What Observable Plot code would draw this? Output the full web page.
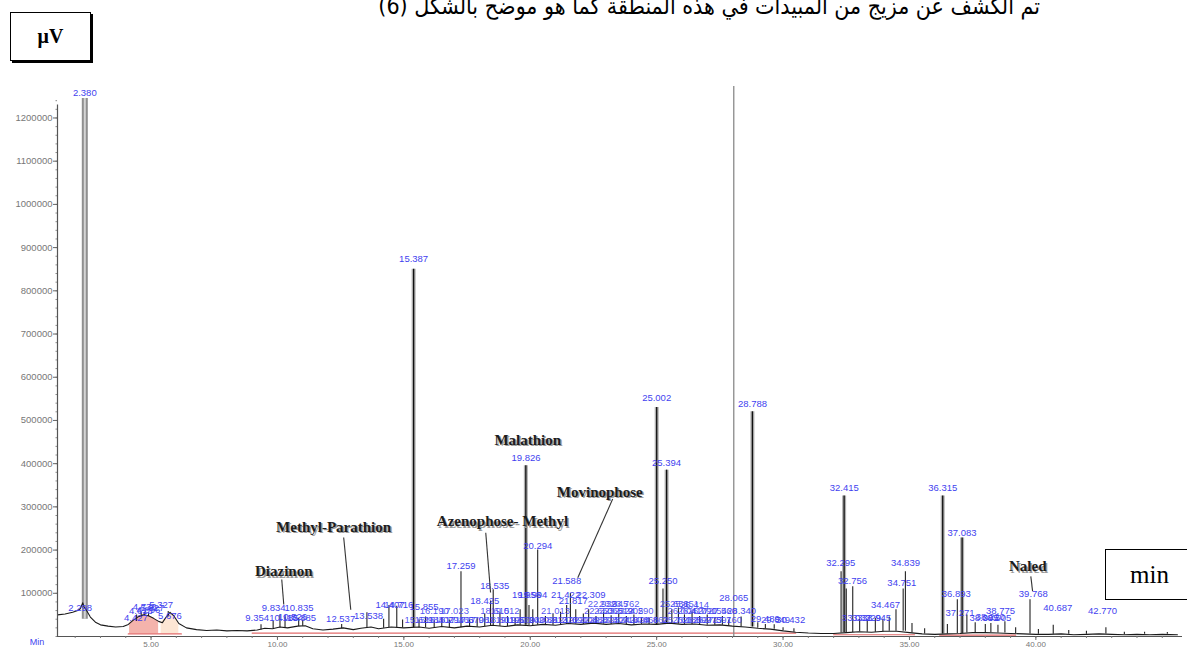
<!DOCTYPE html>
<html><head><meta charset="utf-8">
<script src="https://cdn.jsdelivr.net/npm/d3@7"></script>
<script src="https://cdn.jsdelivr.net/npm/@observablehq/plot@0.6"></script>
<style>
body{margin:0;background:#fff;width:1187px;height:648px;overflow:hidden;position:relative;font-family:"Liberation Sans",sans-serif}
#chart{position:absolute;left:0;top:0}
#ar{position:absolute;right:147px;top:-7px;font:23px "DejaVu Sans Condensed","DejaVu Sans",sans-serif;direction:rtl;white-space:nowrap;color:#000}
#uv{position:absolute;left:10px;top:12px;width:79px;height:47px;border:1.5px solid #000;box-shadow:2px 2px 0 #000;font:bold 20px "Liberation Serif",serif;display:flex;align-items:center;justify-content:center}
#min{position:absolute;left:1105px;top:549px;width:90px;height:51px;border:1.5px solid #000;font:25px "Liberation Serif",serif;display:flex;align-items:center;padding-left:24px;box-sizing:border-box}
</style></head>
<body>
<div id="chart"></div>
<div id="ar">تم الكشف عن مزيج من المبيدات في هذه المنطقة كما هو موضح  بالشكل  (6)</div>
<div id="uv">μV</div>
<div id="min">min</div>
<script>
// ---- data ----
const yTicks = [100000,200000,300000,400000,500000,600000,700000,800000,900000,1000000,1100000,1200000];
const yMinorTicks = d3.range(0, 1250001, 20000);
const xTicks = [5,10,15,20,25,30,35,40];
const xMinorTicks = d3.range(2, 46, 1);

// baseline trace [time (min), signal (µV)]
const trace = [
[1.3,50000],[1.6,52000],[1.9,56000],[2.1,60000],[2.2,64000],[2.3,78000],[2.34,70000],[2.45,60000],[2.6,45000],[2.8,33000],[3.0,27000],[3.3,24000],[3.6,22000],[3.9,23000],[4.1,28000],[4.3,38000],[4.5,46000],[4.7,50000],[4.9,48000],[5.1,42000],[5.3,35000],[5.45,32000],[5.6,45000],[5.75,56000],[5.9,48000],[6.1,30000],[6.4,20000],[6.8,16000],[7.2,14000],[7.6,15000],[8.0,13000],[8.4,14000],[8.8,13000],[9.2,15000],[9.5,19000],[9.8,18000],[10.1,22000],[10.4,20000],[10.8,24000],[11.1,25000],[11.4,18000],[11.8,15000],[12.2,17000],[12.6,20000],[13.0,16000],[13.3,19000],[13.7,22000],[14.0,18000],[14.5,22000],[15.0,20000],[15.6,22000],[16.0,19000],[16.5,23000],[17.0,20000],[17.5,24000],[18.0,22000],[18.5,26000],[19.0,23000],[19.5,27000],[20.0,25000],[20.5,28000],[21.0,26000],[21.5,30000],[22.0,28000],[22.5,31000],[23.0,28000],[23.5,30000],[24.0,27000],[24.5,29000],[25.0,28000],[25.5,31000],[26.0,28000],[26.5,29000],[27.0,26000],[27.5,27000],[28.0,24000],[28.5,22000],[29.0,19000],[29.5,17000],[30.0,13000],[30.5,10000],[31.0,8000],[31.5,7000],[32.0,7000],[32.5,9000],[33.0,11000],[33.5,10000],[34.0,12000],[34.5,12000],[35.0,9000],[35.5,6000],[36.0,5000],[36.5,6000],[37.0,7000],[37.5,9000],[38.0,9000],[38.5,8000],[39.0,7000],[39.5,6000],[40.0,5000],[40.5,5000],[41.0,6000],[41.5,4000],[42.0,5000],[42.5,6000],[43.0,5000],[43.5,4000],[44.0,5000],[44.5,4000],[45.0,5000],[45.6,4000]
];

// small peaks [time, foot, apex]
const peaks = [
[4.43,35000,50000],[4.61,45000,55000],[4.75,48000,56000],[4.9,46000,53000],[5.68,45000,58000],
[9.35,15000,27000],[9.83,18000,35000],[10.1,20000,50000],[10.3,20000,45000],[10.84,23000,42000],[11.0,24000,38000],[12.54,18000,28000],[13.54,20000,55000],[14.2,19000,40000],[14.41,20000,72000],[14.72,20000,70000],[14.95,20000,38000],
[15.6,20000,38000],[15.86,20000,45000],[16.2,20000,36000],[16.5,21000,42000],[16.8,20000,38000],[17.26,20000,150000],[17.6,22000,38000],[17.9,22000,42000],[18.2,23000,52000],[18.43,24000,82000],[18.535,24000,108000],[18.8,24000,55000],[19.1,23000,46000],[19.4,25000,42000],[19.6,26000,62000],[19.95,25000,72000],[20.1,25000,62000],[20.294,26000,200000],[20.6,27000,46000],[20.9,26000,52000],[21.2,27000,56000],[21.44,28000,72000],[21.588,29000,100000],[21.8,29000,62000],[22.1,28000,52000],[22.31,29000,62000],[22.6,30000,46000],[22.9,29000,56000],[23.2,28000,48000],[23.5,29000,52000],[23.8,28000,46000],[24.1,27000,50000],[24.4,28000,44000],[24.7,28000,42000],[25.25,29000,110000],[25.6,30000,62000],[25.86,29000,66000],[26.1,28000,50000],[26.4,28000,56000],[26.7,28000,46000],[27.0,26000,50000],[27.3,26000,42000],[27.6,26000,46000],[27.85,25000,38000],[28.34,22000,45000],[29.0,19000,32000],[29.3,18000,28000],[29.65,17000,27000],[30.0,13000,20000],[30.43,10000,18000],
[32.295,8000,150000],[32.5,8000,110000],[32.756,9000,115000],[33.03,11000,40000],[33.33,10000,38000],[33.65,10000,42000],[33.95,11000,40000],[34.2,12000,45000],[34.467,12000,62000],[34.751,12000,110000],[34.839,12000,150000],[35.1,8000,30000],[35.6,6000,18000],[36.5,6000,28000],[36.893,7000,85000],[37.271,8000,50000],[37.6,9000,32000],[38.0,9000,28000],[38.22,9000,30000],[38.5,8000,26000],[38.775,8000,34000],[39.2,7000,20000],[39.768,6000,85000],[40.1,5000,16000],[40.687,5000,26000],[41.3,5000,14000],[42.0,5000,12000],[42.77,6000,20000],[43.5,4000,10000],[44.3,5000,10000],[45.2,5000,9000]
];

// large peaks [time, foot, apex]
const bigPeaks = [
[15.387,20000,850000],[19.826,26000,395000],[25.002,28000,530000],[25.394,30000,385000],[28.788,22000,520000],[32.415,9000,325000],[36.315,6000,325000],[37.083,7000,228000]
];
const offScalePeak = [[2.38,40000,1245000]];
const markerLine = [[28.05,0,1273000]];

// integration fill under the 4–6 min hump [time, base, signal]
const humpFill = [[4.15,6000,30000],[4.3,6000,38000],[4.5,6000,46000],[4.7,6000,50000],[4.9,6000,48000],[5.1,6000,42000],[5.3,6000,35000]];
const humpFill2 = [[5.4,6000,33000],[5.6,6000,45000],[5.75,6000,56000],[5.9,6000,48000],[6.1,6000,30000]];
// red integration baselines [segment, time, value]
const redBase = [
["a",4.1,6000],["a",6.2,6000],["b",9.0,8000],["b",30.5,8000],["c",32.0,4000],["c",35.2,4000],["d",36.2,3000],["d",39.2,3000]
];

// retention-time labels [text, time, value]
const rtLabels = [
["2.380",2.38,1259000],["2.298",2.2,67000],
["4.427",4.4,44000],["4.613",4.6,60000],["4.730",4.75,69000],["4.896",4.9,62000],["5.027",5.05,66000],["5.327",5.4,72000],["5.676",5.75,48000],
["9.354",9.2,44000],["9.834",9.85,67000],["10.835",10.85,67000],["10.185",10.25,44000],["10.526",10.6,46000],["10.885",10.95,44000],
["12.537",12.5,41000],["13.538",13.6,48000],["14.407",14.45,72000],["14.716",14.8,72000],["15.855",15.8,69000],
["15.387",15.387,873000],["17.259",17.26,164000],["18.535",18.6,118000],["18.425",18.2,83000],["19.826",19.83,413000],["19.958",19.85,95000],["19.994",20.1,95000],["20.294",20.3,210000],["21.588",21.44,129000],["21.422",21.4,97000],["22.309",22.4,97000],["21.817",21.7,83000],
["25.002",25.0,552000],["25.394",25.39,402000],["25.250",25.25,129000],["28.065",28.05,90000],["28.788",28.79,538000],["28.340",28.36,60000],["29.489",29.3,41000],["30.432",30.3,39000],
["32.415",32.42,344000],["32.295",32.28,171000],["32.756",32.75,129000],["34.839",34.84,171000],["34.751",34.7,125000],["34.467",34.05,72000],["33.032",32.9,44000],["33.329",33.3,44000],["33.945",33.7,44000],
["36.315",36.32,344000],["36.893",36.85,99000],["37.083",37.08,240000],["37.271",37.0,55000],["38.775",38.6,60000],["38.005",37.95,44000],["38.220",38.2,46000],["38.505",38.45,44000],["39.768",39.9,99000],["40.687",40.87,65000],["42.770",42.64,60000]
];
// dense band of overlapping small labels
const bandLabels = [
["15.621",15.6,39000],["15.983",16.0,39000],["16.402",16.4,39000],["16.794",16.8,39000],["17.163",17.2,39000],["17.570",17.6,39000],["17.981",18.0,39000],["18.801",18.8,39000],["19.196",19.2,39000],["19.579",19.6,39000],["20.040",20.0,39000],["20.488",20.5,39000],["20.913",20.9,39000],["21.270",21.3,39000],["21.690",21.7,39000],["22.108",22.1,39000],["22.480",22.5,39000],["22.874",22.9,39000],["23.300",23.3,39000],["23.716",23.7,39000],["24.078",24.1,39000],["24.466",24.5,39000],["24.862",24.9,39000],["25.760",25.8,39000],["26.180",26.2,39000],["26.597",26.6,39000],["26.975",27.0,39000],["27.391",27.4,39000],["27.760",27.8,39000],["29.649",29.7,39000],
["16.190",16.2,58000],["17.023",17.0,58000],["18.615",18.6,58000],["19.012",19.0,58000],["21.013",21.0,58000],["22.653",22.7,58000],["23.068",23.1,58000],["23.512",23.5,58000],["23.905",23.9,58000],["24.290",24.3,58000],["26.004",26.0,58000],["26.410",26.4,58000],["26.790",26.8,58000],["27.154",27.2,58000],["27.560",27.6,58000],
["22.939",22.85,76000],["23.345",23.3,76000],["23.762",23.75,76000],["25.651",25.7,76000],["25.851",26.1,76000],["26.414",26.5,72000]
];

// compound annotations [text, time, value]
const compounds = [
["Diazinon",10.25,150000],["Methyl-Parathion",12.22,254000],["Azenophose- Methyl",18.9,266000],["Malathion",19.9,455000],["Movinophose",22.75,335000],["Naled",39.68,162000]
];
// pointer lines [x1, y1, x2, y2]
const pointers = [
[10.17,132000,10.25,74000],[12.62,229000,12.9,62000],[18.24,240000,18.43,102000],[23.26,318000,21.88,136000],[39.8,139000,39.87,105000]
];

const blue = "#3f3fef";
const chart = Plot.plot({
  width: 1187, height: 648,
  marginLeft: 57, marginRight: 5, marginTop: 95, marginBottom: 12,
  x: {domain: [1.3, 45.8]},
  y: {domain: [0, 1252000]},
  style: {background: "transparent", overflow: "visible", fontFamily: "Liberation Sans"},
  marks: [
    Plot.areaY(humpFill, {x: d => d[0], y1: d => d[1], y2: d => d[2], fill: "#f09a90", fillOpacity: 0.75}),
    Plot.areaY(humpFill2, {x: d => d[0], y1: d => d[1], y2: d => d[2], fill: "#fde3cf", fillOpacity: 0.9}),
    Plot.line(redBase, {x: d => d[1], y: d => d[2], z: d => d[0], stroke: "#e26a6a", strokeWidth: 1.2}),
    Plot.ruleX(markerLine, {x: d => d[0], y1: d => d[1], y2: d => d[2], stroke: "#8a8a8a", strokeWidth: 1.3}),
    Plot.ruleX(offScalePeak, {x: d => d[0], y1: d => d[1], y2: d => d[2], stroke: "#8f8f8f", strokeWidth: 6}),
    Plot.ruleX(offScalePeak, {x: d => d[0], y1: d => d[1], y2: d => d[2], stroke: "#d4d4d4", strokeWidth: 2}),
    Plot.ruleX(bigPeaks, {x: d => d[0], y1: d => d[1], y2: d => d[2], stroke: "#b0b0b0", strokeWidth: 4}),
    Plot.ruleX(bigPeaks, {x: d => d[0], y1: d => d[1], y2: d => d[2], stroke: "#111", strokeWidth: 1.3}),
    Plot.ruleX(peaks, {x: d => d[0], y1: d => d[1], y2: d => d[2], stroke: "#222", strokeWidth: 1.1}),
    Plot.line(trace, {x: d => d[0], y: d => d[1], stroke: "#1a1a1a", strokeWidth: 1.1}),
    Plot.text(bandLabels, {x: d => d[1], y: d => d[2], text: d => d[0], fill: blue, fontSize: 9.5, fillOpacity: 0.9}),
    Plot.text(rtLabels, {x: d => d[1], y: d => d[2], text: d => d[0], fill: blue, fontSize: 9.5}),
    Plot.link(pointers, {x1: d => d[0], y1: d => d[1], x2: d => d[2], y2: d => d[3], stroke: "#333", strokeWidth: 1.1}),
    Plot.text(compounds, {x: d => d[1], y: d => d[2], text: d => d[0], dx: 1.5, dy: 1.5, fill: "#9a9a9a", fontSize: 15, fontWeight: "bold", fontFamily: "Liberation Serif"}),
    Plot.text(compounds, {x: d => d[1], y: d => d[2], text: d => d[0], fill: "#1c1c1c", fontSize: 15, fontWeight: "bold", fontFamily: "Liberation Serif"}),
    Plot.ruleX([1.3], {y1: 0, y2: 1230000, stroke: "#555", strokeWidth: 1.2}),
    Plot.ruleY([0], {stroke: "#555", strokeWidth: 1}),
    Plot.axisY(yMinorTicks, {tickSize: 1.5, text: null, stroke: "#888"}),
    Plot.axisY(yTicks, {tickSize: 4, tickPadding: 1, tickFormat: d3.format("d"), fontSize: 9.5, fill: "#777", stroke: "#666", label: null}),
    Plot.axisX(xMinorTicks, {tickSize: 2, text: null, stroke: "#777"}),
    Plot.axisX(xTicks, {tickSize: 4, tickPadding: 1, tickFormat: d => d.toFixed(2), fontSize: 8, fill: "#777", stroke: "#666", label: null}),
    Plot.text(["Min"], {x: 0.2, y: -14000, text: d => d, fill: blue, fontSize: 9, textAnchor: "start", clip: false})
  ]
});
document.getElementById("chart").appendChild(chart);
</script>
</body></html>
